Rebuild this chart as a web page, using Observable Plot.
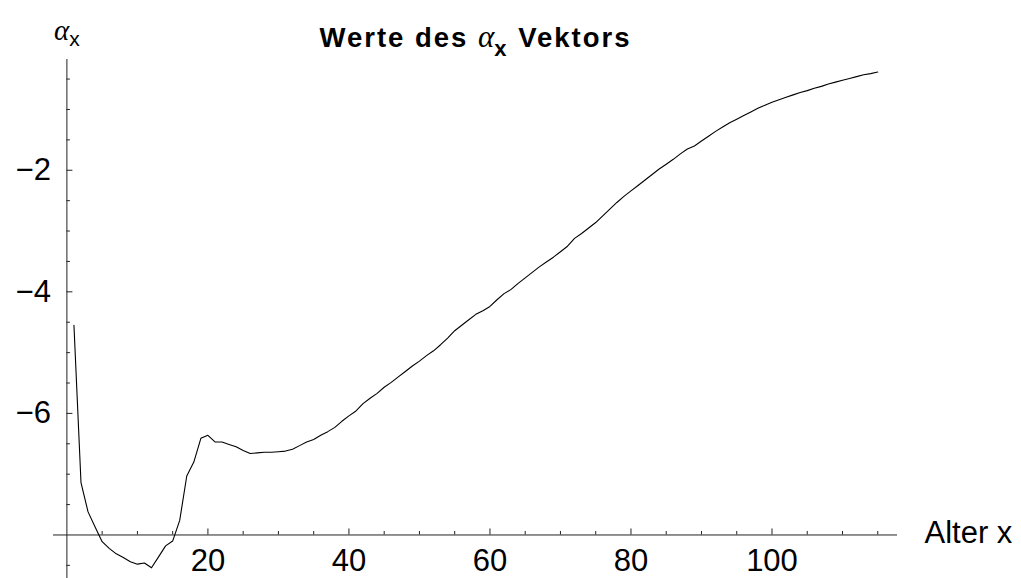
<!DOCTYPE html>
<html>
<head>
<meta charset="utf-8">
<script src="https://cdn.jsdelivr.net/npm/d3@7"></script>
<script src="https://cdn.jsdelivr.net/npm/@observablehq/plot@0.6"></script>
<style>
  html, body { margin: 0; padding: 0; background: #fff; }
  #chart svg { display: block; }
</style>
</head>
<body>
<div id="chart"></div>
<script>
// ---- data ----
const ages = [
  1, 2, 3, 4, 5, 6, 7, 8, 9, 10,
  11, 12, 13, 14, 15, 16, 17, 18, 19, 20,
  21, 22, 23, 24, 25, 26, 27, 28, 29, 30,
  31, 32, 33, 34, 35, 36, 37, 38, 39, 40,
  41, 42, 43, 44, 45, 46, 47, 48, 49, 50,
  51, 52, 53, 54, 55, 56, 57, 58, 59, 60,
  61, 62, 63, 64, 65, 66, 67, 68, 69, 70,
  71, 72, 73, 74, 75, 76, 77, 78, 79, 80,
  81, 82, 83, 84, 85, 86, 87, 88, 89, 90,
  91, 92, 93, 94, 95, 96, 97, 98, 99, 100,
  101, 102, 103, 104, 105, 106, 107, 108, 109, 110,
  111, 112, 113, 114, 115
];
const alphaValues = [
  -4.55, -7.14, -7.62, -7.87, -8.11, -8.22, -8.31, -8.37, -8.44, -8.48,
  -8.46, -8.54, -8.36, -8.18, -8.10, -7.76, -7.03, -6.80, -6.41, -6.36,
  -6.47, -6.47, -6.51, -6.55, -6.61, -6.66, -6.65, -6.64, -6.64, -6.63,
  -6.62, -6.59, -6.53, -6.47, -6.43, -6.36, -6.30, -6.23, -6.13, -6.04,
  -5.96, -5.84, -5.75, -5.67, -5.57, -5.49, -5.40, -5.31, -5.22, -5.14,
  -5.05, -4.97, -4.87, -4.76, -4.64, -4.55, -4.46, -4.37, -4.31, -4.24,
  -4.13, -4.03, -3.96, -3.86, -3.77, -3.68, -3.59, -3.51, -3.43, -3.34,
  -3.25, -3.12, -3.04, -2.95, -2.86, -2.75, -2.64, -2.53, -2.43, -2.34,
  -2.25, -2.16, -2.07, -1.98, -1.90, -1.82, -1.73, -1.65, -1.60, -1.52,
  -1.44, -1.36, -1.29, -1.22, -1.16, -1.10, -1.04, -0.98, -0.93, -0.88,
  -0.84, -0.80, -0.76, -0.72, -0.69, -0.65, -0.62, -0.58, -0.55, -0.52,
  -0.49, -0.46, -0.43, -0.41, -0.385
];
const xMajorTicks = [20, 40, 60, 80, 100];
const xMinorTicks = [5, 10, 15, 25, 30, 35, 45, 50, 55, 65, 70, 75, 85, 90, 95, 105, 110, 115];
const yMajorTicks = [-2, -4, -6];
const yMinorTicks = [-8.5, -7.5, -7, -6.5, -5.5, -5, -4.5, -3.5, -3, -2.5, -1.5, -1, -0.5];
const xAxisAt = -8;   // the x axis crosses the y axis at alpha = -8
const yAxisAt = 0;    // the y axis sits at age 0
const xDomain = [-1.9, 117.8];
const yDomain = [-8.716, -0.178];
const titleText = "Werte des αx Vektors";
const yLabelText = "αx";
const xLabelText = "Alter x";

const data = ages.map((a, i) => ({age: a, alpha: alphaValues[i]}));
const sans = "'Liberation Sans', Arial, Helvetica, sans-serif";
const serif = "'Liberation Serif', 'Times New Roman', serif";
const axisColor = "#222";
const labelSize = 31;

const svg = Plot.plot({
  width: 1021,
  height: 578,
  marginLeft: 53,
  marginRight: 124,
  marginTop: 59,
  marginBottom: 0,
  x: {domain: xDomain, axis: null},
  y: {domain: yDomain, axis: null},
  style: {fontFamily: sans, background: "#fff", color: "#000", overflow: "visible"},
  marks: [
    Plot.ruleY([xAxisAt], {stroke: axisColor, strokeWidth: 1}),
    Plot.ruleX([yAxisAt], {stroke: axisColor, strokeWidth: 1}),
    Plot.ruleX(xMajorTicks, {x: d => d, y1: xAxisAt, y2: xAxisAt, insetTop: -6, stroke: axisColor}),
    Plot.ruleX(xMinorTicks, {x: d => d, y1: xAxisAt, y2: xAxisAt, insetTop: -3.5, stroke: axisColor}),
    Plot.ruleY(yMajorTicks, {y: d => d, x1: yAxisAt, x2: yAxisAt, insetRight: -6, stroke: axisColor}),
    Plot.ruleY(yMinorTicks, {y: d => d, x1: yAxisAt, x2: yAxisAt, insetRight: -3.5, stroke: axisColor}),
    Plot.text(xMajorTicks, {x: d => d, y: xAxisAt, text: d => String(d), lineAnchor: "top", dy: 14, fontSize: labelSize, fill: "#000"}),
    Plot.text(yMajorTicks, {x: yAxisAt, y: d => d, text: d => "\u2212" + Math.abs(d), textAnchor: "end", dx: -16, fontSize: labelSize, fill: "#000"}),
    Plot.line(data, {x: "age", y: "alpha", stroke: "#000", strokeWidth: 1.1}),
    Plot.text([xLabelText], {y: xAxisAt, frameAnchor: "right", textAnchor: "start", dx: 27, dy: -2, fontSize: labelSize, fill: "#000"}),
    Plot.text([titleText], {frameAnchor: "top", dy: -32.1, fontSize: 27.5, fontWeight: "bold", fill: "#000"}),
    Plot.text([yLabelText], {x: yAxisAt, frameAnchor: "top", dy: -40, fontSize: 29, fill: "#000"})
  ]
});

// rich formatting (italic alpha, subscript x) of the title and y label
d3.select(svg).selectAll("text").each(function() {
  const t = d3.select(this);
  const content = this.textContent;
  if (content === titleText) {
    t.text(null).attr("letter-spacing", "2px");
    t.append("tspan").text("Werte des ");
    t.append("tspan").attr("font-family", serif).attr("font-style", "italic").attr("font-weight", "normal").attr("font-size", 31).attr("letter-spacing", "0px").text("α");
    t.append("tspan").attr("font-size", 22).attr("dy", 9).text("x");
    t.append("tspan").attr("dy", -9).text(" Vektors");
  } else if (content === yLabelText) {
    t.text(null);
    t.append("tspan").attr("font-family", serif).attr("font-style", "italic").text("α");
    t.append("tspan").attr("font-family", sans).attr("font-size", 21).attr("dy", 6).text("x");
  }
});

document.getElementById("chart").appendChild(svg);
</script>
</body>
</html>
